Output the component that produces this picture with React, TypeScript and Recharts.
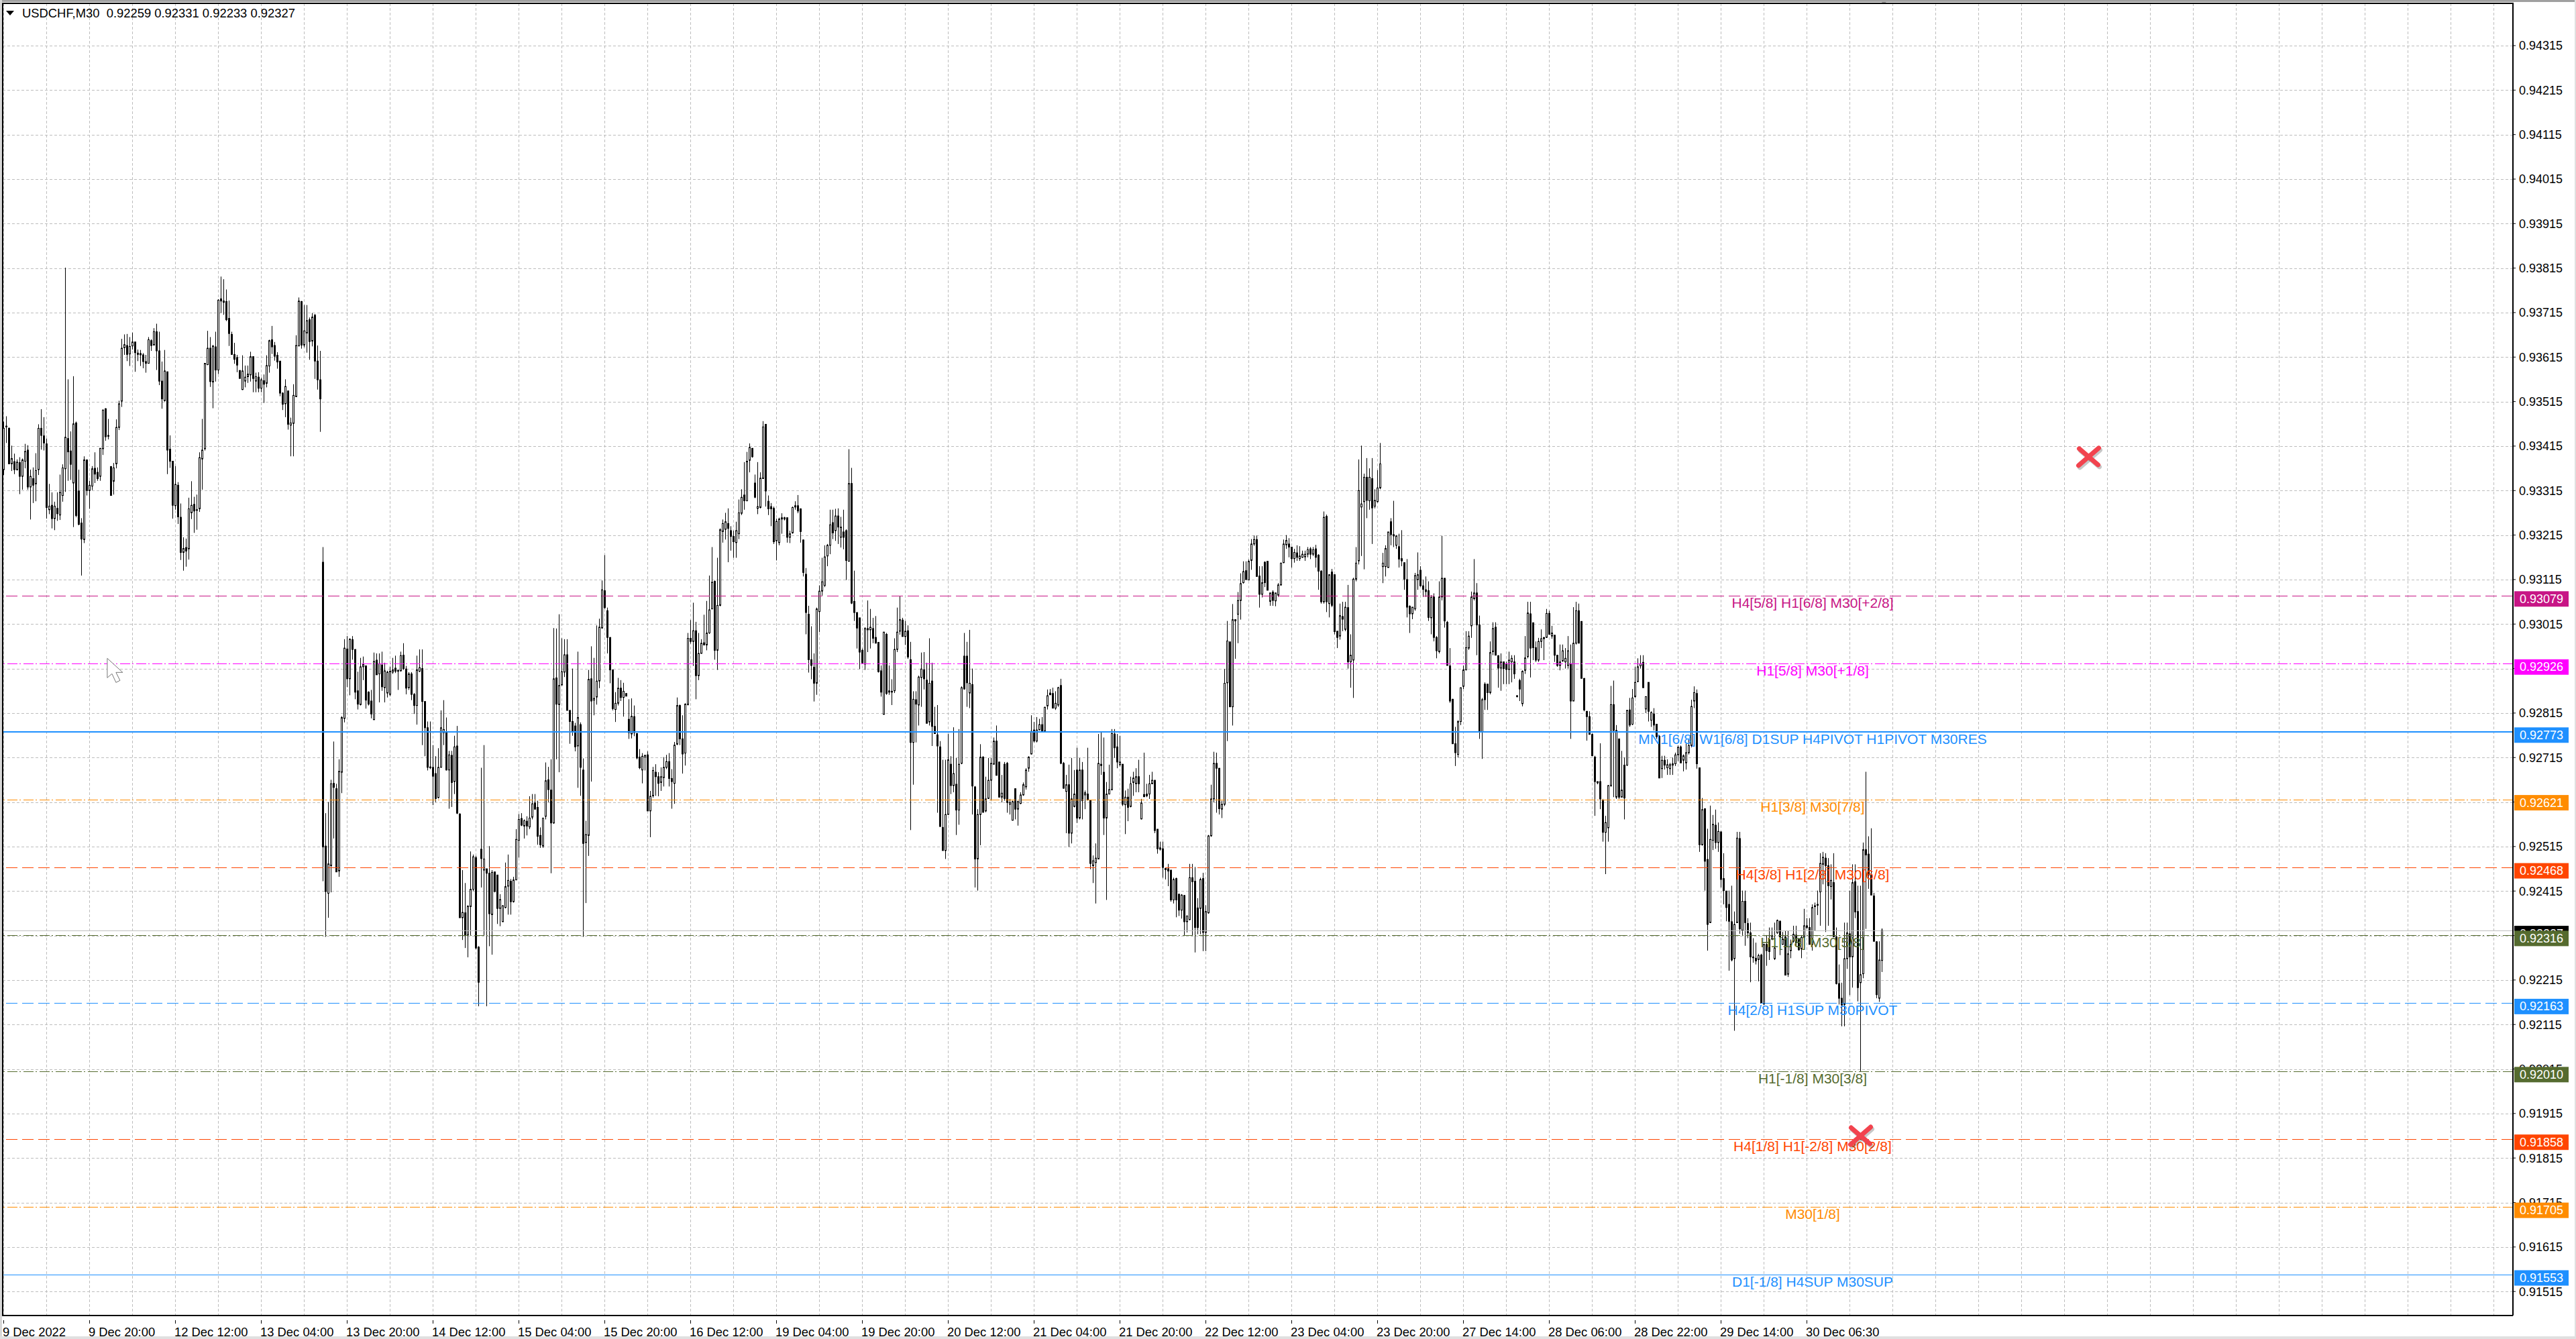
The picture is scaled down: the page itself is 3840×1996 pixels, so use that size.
import { ComposedChart, Bar, XAxis, YAxis, CartesianGrid, ReferenceLine, ReferenceDot } from "recharts";

// rows are [open, high, low, close] in 1e-5 price units
const legA = [
[93362,93470,93350,93455],[93460,93482,93422,93458],[93455,93457,93375,93375],[93375,93416,93359,93387],[93380,93398,93352,93362],[93362,93385,93360,93379],[93378,93390,93307,93347],[93347,93387,93317,93384],[93381,93420,93365,93403],[93406,93417,93317,93323],
[93323,93362,93250,93347],[93342,93367,93287,93327],[93330,93399,93291,93360],[93362,93464,93350,93455],[93455,93498,93407,93439],[93438,93480,93405,93422],[93420,93432,93252,93277],[93272,93330,93262,93280],[93282,93311,93230,93252],[93252,93290,93226,93280],
[93275,93311,93247,93263],[93260,93351,93249,93311],[93304,93374,93290,93366],[93364,93816,93312,93435],[93432,93565,93337,93402],[93404,93448,93339,93374],[93332,93572,93233,93465],[93467,93470,93255,93259],[93314,93362,93237,93239],[93242,93253,93124,93206],
[93205,93392,93197,93384],[93384,93385,93304,93315],[93315,93337,93274,93327],[93325,93370,93316,93364],[93365,93401,93332,93352],[93356,93367,93337,93342],[93347,93410,93337,93410],[93409,93497,93395,93496],[93499,93500,93427,93436],[93439,93476,93430,93437],
[93369,93370,93304,93304],[93336,93377,93306,93366],[93375,93475,93365,93457],[93457,93517,93451,93510],[93516,93656,93503,93635],[93636,93666,93620,93643],[93641,93667,93606,93621],[93622,93660,93595,93639],[93640,93670,93632,93649],[93649,93649,93582,93625],
[93624,93632,93606,93621],[93623,93631,93595,93620],[93620,93624,93590,93605],[93605,93620,93580,93601],[93601,93660,93601,93654],[93652,93655,93629,93641],[93642,93680,93642,93672],[93672,93690,93586,93629],[93629,93672,93552,93561],[93561,93605,93499,93521],
[93517,93631,93515,93584],[93582,93582,93352,93406],[93408,93439,93366,93381],[93381,93381,93252,93282],[93281,93370,93272,93329],[93327,93334,93240,93256],[93255,93286,93159,93176],[93176,93210,93135,93185],[93187,93207,93144,93179],[93184,93299,93160,93274],
[93265,93336,93251,93282],[93284,93301,93220,93269],[93272,93306,93227,93271],[93274,93401,93267,93389],[93386,93476,93317,93406],[93409,93601,93405,93601],[93598,93674,93597,93635],[93635,93660,93548,93560],[93559,93642,93500,93640],[93638,93672,93560,93586],
[93586,93745,93577,93743],[93746,93796,93714,93741],[93741,93790,93710,93738],[93740,93767,93696,93699],[93702,93742,93640,93668],[93666,93672,93620,93621],[93621,93647,93600,93610],[93614,93620,93581,93597],[93585,93585,93567,93567],[93542,93619,93541,93584],
[93561,93596,93547,93570],[93571,93596,93557,93577],[93575,93627,93560,93616],[93616,93616,93536,93567],[93561,93580,93536,93571],[93570,93581,93536,93545],[93545,93569,93536,93564],[93562,93576,93512,93554],[93556,93619,93547,93596],[93595,93654,93580,93652],
[93654,93685,93622,93638],[93641,93649,93607,93617],[93619,93626,93589,93604],[93606,93606,93527,93534],[93534,93536,93496,93509],[93510,93565,93480,93549],[93539,93539,93452,93464],[93462,93479,93392,93467],[93466,93554,93392,93529],[93526,93664,93525,93641],
[93640,93749,93640,93741],[93740,93741,93634,93642],[93642,93732,93637,93674],[93669,93732,93625,93697],[93699,93704,93609,93650],[93651,93714,93639,93705],[93709,93712,93566,93606],[93606,93641,93542,93564],[93564,93629,93447,93521],
];

const legB = [
[93154,93188,92437,92514],[92516,92590,92312,92414],[92410,92615,92355,92476],[92472,92665,92412,92656],[92657,92751,92533,92648],[92645,92656,92458,92458],[92460,92711,92447,92684],[92682,92808,92635,92805],[92803,92981,92794,92961],[92959,92988,92873,92892],
[92892,92983,92855,92981],[92980,92988,92935,92958],[92958,92958,92846,92862],[92865,92908,92823,92835],[92834,92939,92832,92919],[92919,92942,92889,92924],[92921,92922,92825,92844],[92862,92864,92832,92835],[92842,92867,92803,92813],[92800,92951,92800,92931],
[92934,92949,92901,92901],[92903,92949,92839,92926],[92923,92953,92865,92874],[92872,92928,92839,92910],[92860,92910,92850,92907],[92857,92919,92853,92909],[92907,92939,92903,92912],[92916,92944,92905,92909],[92911,92912,92867,92909],[92910,92953,92908,92944],
[92945,92972,92912,92915],[92914,92921,92857,92871],[92872,92907,92867,92903],[92903,92907,92844,92857],[92857,92860,92813,92832],[92832,92944,92789,92912],[92909,92958,92907,92917],[92915,92958,92743,92841],[92841,92841,92718,92782],[92782,92796,92686,92693],
[92694,92796,92689,92692],[92693,92743,92608,92673],[92679,92718,92615,92623],[92625,92736,92623,92693],[92693,92821,92693,92782],[92771,92844,92743,92778],[92773,92805,92686,92687],[92687,92730,92600,92721],[92720,92730,92604,92659],[92661,92764,92633,92739],
[92741,92786,92588,92590],[92588,92590,92355,92355],[92355,92462,92305,92367],[92366,92433,92287,92316],[92316,92383,92266,92381],[92380,92504,92316,92419],[92419,92497,92415,92492],[92490,92494,92284,92287],[92289,92291,92156,92210],[92509,92692,92423,92488],
[92462,92743,92316,92487],[92465,92465,92156,92455],[92455,92516,92291,92364],[92362,92462,92272,92457],[92458,92458,92412,92414],[92451,92451,92341,92376],[92376,92408,92336,92396],[92346,92383,92346,92382],[92378,92479,92376,92425],[92426,92497,92362,92439],
[92437,92442,92362,92391],[92391,92447,92389,92440],[92440,92554,92440,92531],[92529,92588,92490,92576],[92578,92590,92561,92563],[92561,92576,92533,92573],[92572,92583,92540,92561],[92559,92628,92554,92579],[92581,92633,92576,92611],[92613,92633,92598,92599],
[92603,92618,92519,92538],[92540,92558,92512,92519],[92516,92579,92512,92579],[92583,92704,92576,92663],[92665,92694,92615,92643],[92642,92711,92455,92568],[92568,93006,92566,92892],[92894,93005,92711,92835],[92834,93037,92682,92877],[92878,92983,92878,92908],
[92907,92981,92896,92946],[92946,92981,92821,92821],[92821,92821,92746,92796],[92796,92915,92764,92775],[92786,92793,92729,92739],[92741,92953,92647,92805],[92789,92794,92629,92693],[92687,92713,92312,92522],[92524,92573,92388,92542],[92540,92912,92494,92891],
[92892,92965,92661,92842],[92844,92939,92810,92848],[92851,93012,92834,92887],[92887,93027,92871,93008],[93006,93113,93005,93092],[93090,93170,93049,93052],[93045,93052,92949,92985],[92985,92985,92882,92912],[92912,92912,92821,92825],[92823,92862,92795,92837],
[92837,92894,92832,92871],[92871,92889,92842,92850],[92850,92883,92807,92864],[92859,92859,92853,92853],[92801,92846,92757,92771],[92768,92848,92758,92808],[92807,92832,92763,92771],[92769,92770,92711,92714],[92716,92734,92689,92692],[92687,92725,92657,92718],
[92716,92721,92686,92720],[92721,92729,92595,92595],[92595,92640,92536,92628],[92629,92694,92625,92686],[92682,92700,92629,92672],[92672,92682,92628,92657],[92659,92693,92640,92672],[92670,92716,92650,92693],[92693,92721,92689,92706],[92706,92725,92650,92668],
[92668,92689,92600,92661],[92657,92750,92611,92743],[92745,92850,92743,92832],[92832,92834,92743,92757],[92757,92810,92679,92723],[92725,92837,92697,92835],[92834,92995,92832,92983],[92983,93024,92971,92976],[92976,93063,92921,93000],[93000,93020,92846,92899],
[92899,92995,92889,92949],[92949,92981,92949,92972],[92973,93036,92967,92968],[92968,93067,92956,92995],[92995,93124,92993,93047],[93049,93188,93049,93109],[93111,93113,92935,92956],[92956,93164,92912,93057],[93057,93230,93055,93227],[93223,93250,93198,93241],
[93228,93265,93205,93245],[93241,93275,93154,93230],[93225,93235,93180,93212],[93212,93225,93164,93200],[93198,93245,93164,93225],
];

const legC = [
[93218,93295,93206,93265],[93264,93318,93260,93300],[93305,93379,93272,93292],[93292,93402,93291,93381],[93383,93421,93356,93412],[93410,93410,93389,93391],[93332,93351,93298,93300],[93275,93379,93262,93279],[93277,93356,93275,93343],[93342,93471,93341,93458],
[93464,93464,93279,93314],[93291,93304,93260,93274],[93279,93287,93235,93274],[93275,93279,93195,93200],[93202,93252,93158,93246],[93198,93254,93192,93251],[93251,93264,93218,93254],[93254,93256,93248,93251],[93254,93254,93198,93210],[93210,93225,93197,93218],
[93220,93279,93218,93277],[93281,93291,93272,93278],[93281,93305,93264,93269],[93274,93275,93198,93223],[93204,93205,93122,93131],[93127,93141,92992,93041],[93037,93056,92906,92935],[92935,93010,92891,92922],[92918,92949,92841,92882],[92882,93052,92856,93049],
[93043,93102,92997,93089],[93089,93164,93079,93110],[93102,93192,93098,93166],[93168,93195,93145,93192],[93192,93272,93172,93238],[93243,93272,93206,93220],[93225,93274,93202,93258],[93258,93275,93195,93233],[93210,93256,93187,93233],[93222,93272,93183,93210],
[93225,93228,93114,93158],[93156,93408,93156,93331],[93331,93366,93060,93062],[93066,93135,93022,93041],[93041,93041,92960,93006],[93029,93029,92914,92952],[92956,92960,92925,92928],[92925,93008,92912,93005],[93002,93068,92952,93005],[93002,93049,92960,93008],
[93005,93029,92972,92983],[92985,93033,92972,92972],[92974,92974,92906,92908],[92910,92922,92852,92862],[92812,92997,92812,92997],[92992,92995,92856,92859],[92862,92922,92856,92865],[92862,92891,92833,92864],[92865,92983,92860,92958],[92958,93052,92952,92997],
[92999,93077,92991,93025],[93024,93029,92987,92987],[92987,93022,92968,92999],[93000,93012,92937,92941],[92935,92975,92552,92749],[92749,92864,92654,92846],[92845,92864,92749,92835],[92833,92899,92787,92896],[92895,92951,92829,92914],[92912,92952,92868,92892],
[92889,92928,92792,92792],[92795,92983,92787,92882],[92887,92928,92741,92785],[92785,92829,92768,92769],[92766,92833,92591,92741],[92739,92752,92560,92560],[92558,92710,92506,92506],[92506,92710,92487,92587],[92587,92768,92587,92710],[92700,92718,92633,92652],
[92652,92783,92637,92679],[92655,92714,92541,92597],[92597,92779,92564,92700],[92702,92875,92700,92872],[92943,92995,92868,92869],[92943,92975,92829,92883],[92860,93002,92826,92882],[92879,92915,92587,92651],[92649,92651,92423,92487],[92487,92599,92416,92587],
[92587,92745,92518,92716],[92716,92718,92591,92592],[92595,92672,92592,92622],[92623,92714,92622,92664],[92664,92714,92618,92702],[92700,92760,92699,92752],[92752,92787,92675,92675],[92705,92705,92626,92626],[92626,92676,92614,92635],[92700,92705,92618,92623],
[92702,92705,92591,92614],[92610,92622,92587,92614],[92574,92618,92574,92616],[92645,92645,92576,92599],[92599,92618,92562,92616],[92612,92637,92610,92631],[92631,92659,92629,92654],[92649,92691,92643,92687],[92691,92718,92683,92716],[92723,92810,92722,92774],
[92777,92795,92749,92752],[92752,92806,92749,92777],[92777,92802,92777,92789],[92789,92806,92772,92774],[92774,92829,92772,92828],[92831,92868,92823,92854],[92860,92869,92856,92856],[92859,92872,92826,92826],[92826,92864,92822,92837],[92833,92874,92829,92872],
[92877,92892,92700,92702],[92702,92705,92645,92646],[92639,92676,92545,92654],[92654,92699,92514,92545],[92545,92714,92522,92622],[92605,92687,92603,92633],[92687,92737,92568,92579],[92579,92714,92576,92687],[92687,92705,92576,92618],[92631,92641,92599,92636],
[92633,92737,92618,92620],[92618,92618,92464,92477],[92472,92495,92433,92483],[92479,92522,92387,92489],[92487,92768,92487,92702],[92700,92772,92676,92697],[92682,92760,92541,92579],[92579,92660,92395,92633],[92633,92699,92633,92643],[92643,92779,92641,92769],
[92768,92779,92714,92737],[92739,92768,92691,92705],[92699,92764,92695,92705],[92700,92700,92606,92610],[92609,92641,92543,92626],[92626,92645,92572,92603],[92605,92672,92603,92656],[92659,92683,92629,92669],[92656,92691,92637,92672],[92672,92710,92637,92656],
[92577,92622,92576,92613],[92632,92726,92626,92627],[92629,92656,92626,92633],[92633,92676,92622,92656],[92656,92683,92656,92664],[92664,92664,92545,92551],[92554,92554,92499,92510],[92512,92526,92506,92509],[92510,92526,92445,92468],[92466,92468,92441,92463],
[92465,92476,92426,92460],[92462,92462,92391,92395],[92395,92445,92387,92441],[92443,92445,92356,92395],[92408,92408,92359,92372],[92372,92408,92353,92406],[92405,92406,92314,92346],[92346,92360,92322,92359],[92351,92476,92349,92445],[92445,92476,92314,92436],
[92437,92469,92277,92333],[92377,92399,92318,92333],[92376,92445,92318,92441],[92443,92456,92280,92322],[92322,92383,92280,92369],
];

const legD = [
[92366,92541,92364,92539],[92539,92654,92537,92622],[92622,92728,92614,92702],[92702,92726,92591,92691],[92691,92691,92587,92600],[92599,92618,92579,92610],[92610,92914,92606,92882],[92883,93022,92752,92977],[92975,92975,92829,92829],[92829,93060,92787,93025],
[93025,93025,92937,93022],[93037,93087,92972,93068],[93068,93129,93025,93106],[93108,93156,93106,93133],[93135,93156,93114,93115],[93114,93160,93114,93156],[93158,93206,93137,93195],[93195,93214,93191,93205],[93205,93214,93122,93122],[93123,93145,93052,93082],
[93082,93145,93075,93108],[93154,93156,93098,93108],[93156,93156,93091,93091],[93066,93085,93056,93085],[93087,93091,93056,93068],[93067,93085,93055,93085],[93080,93107,93076,93103],[93103,93153,93101,93152],[93153,93205,93152,93195],[93193,93215,93184,93203],
[93195,93208,93165,93188],[93188,93188,93142,93162],[93162,93184,93153,93176],[93175,93192,93157,93165],[93162,93190,93157,93168],[93165,93180,93164,93172],[93166,93180,93157,93172],[93172,93188,93165,93182],[93184,93188,93161,93172],[93172,93188,93168,93182],
[93184,93193,93142,93165],[93170,93172,93092,93134],[93134,93136,93061,93065],[93065,93268,93061,93255],[93257,93261,93042,93065],[93061,93126,93030,93126],[93132,93139,93053,93057],[93126,93126,92992,92998],[92999,92999,92961,92985],[92988,93061,92980,93034],
[93032,93065,92999,93026],[93003,93065,92999,93053],[93052,93103,92915,92930],[92930,92992,92872,92945],[92934,93119,92849,93116],[93116,93188,93111,93152],[93157,93385,93149,93315],[93278,93416,93168,93285],[93290,93353,93138,93345],[93345,93388,93253,93293],
[93292,93365,93272,93345],[93342,93388,93195,93276],[93280,93318,93275,93293],[93290,93361,93288,93321],[93321,93422,93318,93375],[93144,93175,93107,93152],[93144,93192,93122,93185],[93142,93222,93142,93222],[93245,93253,93192,93216],[93216,93292,93188,93213],
[93192,93215,93184,93213],[93189,93218,93142,93161],[93162,93226,93145,93157],[93153,93153,93092,93116],[93115,93161,93030,93053],[93055,93057,92995,93038],[93038,93053,93026,93053],[93049,93130,93045,93124],[93115,93176,93092,93126],[93136,93145,93099,93101],
[93101,93115,93076,93093],[93092,93122,93076,93088],[93090,93111,93022,93030],[93029,93080,92992,93075],[93076,93084,92976,92985],[92985,92988,92938,92955],[92953,93111,92949,93076],[93076,93213,93068,93118],[93118,93118,93007,93022],[93019,93022,92922,92922],
[92921,92961,92838,92842],[92846,92847,92746,92746],[92746,92784,92696,92726],[92722,92799,92715,92796],[92796,92872,92788,92872],[92875,92922,92869,92912],[92912,92999,92911,92962],[92961,92999,92957,92988],[93011,93088,92984,93076],[93072,93161,93068,93085],
[93085,93107,92945,93013],[93013,93034,92757,92775],[92772,92849,92712,92845],[92880,92884,92822,92845],[92880,92880,92822,92861],[92861,92976,92857,92951],[92953,93019,92945,93005],[93008,93019,92945,92945],[92944,92945,92872,92916],[92916,92949,92865,92930],
[92930,92930,92880,92915],[92926,92930,92880,92913],[92913,92953,92880,92934],[92930,92945,92884,92938],[92930,92945,92892,92903],[92852,92855,92850,92854],[92888,92892,92842,92869],[92836,92911,92830,92909],[92911,92988,92903,92939],[92942,93065,92938,93040],
[93038,93065,92895,92961],[93018,93018,92934,92962],[92962,92976,92930,92934],[92934,92984,92930,92976],[92976,93003,92961,92982],[92982,92984,92934,92985],[92985,93049,92984,93039],[93039,93045,92992,92992],[92988,93011,92982,92995],[92990,92990,92930,92945],
[92945,92945,92919,92922],[92922,92969,92911,92930],[92932,92969,92930,92955],[92930,92961,92915,92938],[92922,92988,92915,92955],[92926,92969,92757,92842],[92842,93053,92842,92972],[92972,93065,92969,93045],[93045,93061,92972,92972],[93021,93021,92893,92893],
[92893,92893,92819,92822],[92819,92819,92753,92807],[92807,92819,92767,92767],[92767,92769,92719,92719],[92716,92719,92584,92661],[92661,92661,92655,92658],[92661,92747,92599,92622],[92619,92622,92526,92547],[92547,92584,92453,92569],[92557,92653,92526,92652],
[92652,92876,92649,92834],[92834,92888,92626,92776],[92626,92788,92622,92776],[92757,92757,92622,92626],[92626,92730,92626,92642],[92698,92715,92576,92624],[92698,92822,92696,92821],[92822,92849,92784,92788],[92790,92869,92788,92849],[92852,92919,92849,92884],
[92886,92938,92884,92919],[92921,92945,92915,92926],[92929,92945,92872,92872],[92824,92852,92815,92852],[92884,92884,92796,92819],[92799,92819,92784,92816],[92813,92826,92776,92788],[92790,92790,92757,92762],[92763,92765,92669,92669],[92690,92719,92669,92709],
[92709,92719,92688,92698],[92692,92711,92676,92699],[92690,92703,92676,92699],[92698,92715,92676,92701],[92701,92726,92696,92721],[92721,92742,92707,92738],[92739,92742,92703,92703],[92709,92722,92684,92719],[92703,92746,92688,92726],[92726,92757,92722,92742],
[92742,92845,92738,92830],[92842,92875,92826,92861],
];

const legE = [
[92859,92868,92690,92701],[92692,92692,92503,92519],[92519,92624,92517,92598],[92600,92600,92416,92482],[92486,92555,92281,92340],[92344,92607,92344,92531],[92529,92586,92507,92565],[92563,92598,92510,92524],[92524,92569,92503,92549],[92548,92549,92423,92441],
[92443,92500,92385,92416],[92415,92415,92347,92378],[92385,92416,92236,92347],[92346,92427,92257,92260],[92263,92369,92101,92340],[92344,92548,92344,92534],[92533,92548,92319,92330],[92326,92416,92316,92392],[92392,92416,92292,92344],[92342,92354,92309,92321],
[92321,92344,92210,92267],[92265,92309,92254,92267],[92264,92299,92250,92258],[92261,92274,92212,92270],[92271,92274,92163,92163],[92161,92295,92160,92295],[92295,92316,92247,92281],[92306,92333,92260,92279],[92307,92333,92306,92315],[92263,92344,92260,92287],
[92321,92351,92319,92349],[92347,92349,92271,92312],[92295,92323,92295,92307],[92312,92326,92226,92226],[92228,92326,92222,92274],[92281,92306,92264,92295],[92302,92337,92299,92318],[92316,92337,92292,92299],[92306,92309,92281,92283],[92285,92316,92264,92311],
[92312,92375,92292,92337],[92337,92354,92330,92333],[92333,92354,92295,92295],[92295,92385,92281,92378],[92380,92389,92326,92382],[92383,92416,92361,92385],[92413,92500,92337,92477],[92475,92503,92430,92491],[92489,92500,92323,92472],[92472,92489,92337,92427],
[92425,92475,92396,92439],[92434,92500,92312,92312],[92312,92333,92205,92207],[92207,92250,92160,92174],[92174,92209,92111,92159],[92160,92344,92111,92263],[92263,92344,92240,92321],[92319,92416,92181,92267],[92267,92475,92198,92434],[92436,92475,92354,92368],
[92369,92427,92167,92198],[92209,92427,92010,92227],[92229,92524,92219,92508],[92508,92683,92330,92496],[92498,92538,92420,92451],[92451,92556,92406,92406],[92404,92411,92302,92302],[92301,92302,92174,92182],[92174,92302,92166,92260],[92259,92331,92233,92327],
];

const dateLabels = ["9 Dec 2022","9 Dec 20:00","12 Dec 12:00","13 Dec 04:00","13 Dec 20:00","14 Dec 12:00","15 Dec 04:00","15 Dec 20:00","16 Dec 12:00","19 Dec 04:00","19 Dec 20:00","20 Dec 12:00","21 Dec 04:00","21 Dec 20:00","22 Dec 12:00","23 Dec 04:00","23 Dec 20:00","27 Dec 14:00","28 Dec 06:00","28 Dec 22:00","29 Dec 14:00","30 Dec 06:30"];
const gridBars = [0,16,32,48,64,80,96,112,128,144,160,176,192,208,224,240,256,272,288,304,320,336,352,368,384,400,416,432,448,464,480,496,512,528,544,560,576,592,608,624,640,656,672,688,704,720,736,752,768,784,800,816,832,848,864,880,896,912,928];
const priceTicks = [94315,94215,94115,94015,93915,93815,93715,93615,93515,93415,93315,93215,93115,93015,92915,92815,92715,92615,92515,92415,92315,92215,92115,92015,91915,91815,91715,91615,91515];

const levelPrices = [93079,92926,92773,92621,92468,92316,92163,92010,91858,91705,91553];
const levelNames = ["H4[5/8] H1[6/8] M30[+2/8]","H1[5/8] M30[+1/8]","MN1[6/8] W1[6/8] D1SUP H4PIVOT H1PIVOT M30RES","H1[3/8] M30[7/8]","H4[3/8] H1[2/8] M30[6/8]","H1[1/8] M30[5/8]","H4[2/8] H1SUP M30PIVOT","H1[-1/8] M30[3/8]","H4[1/8] H1[-2/8] M30[2/8]","M30[1/8]","D1[-1/8] H4SUP M30SUP"];
const levelColors = ["#C71585","#FF00FF","#1E90FF","#FF8C00","#FF4500","#556B2F","#1E90FF","#556B2F","#FF4500","#FF8C00","#1E90FF"];
const DASH = "17 7";
const DASHDOT = "15 4 2 3";
const levelDashes = [DASH,DASHDOT,"",DASHDOT,DASH,DASHDOT,DASH,DASHDOT,DASH,DASHDOT,""];
const levelWidths = [1,1,2,1,1,1,1,1,1,1,1];

const lastPrice = 92327;
const crossBars = [692,777];
const crossPrices = [91865,93391];

const data = [...legA, ...legB, ...legC, ...legD, ...legE].map((r, i) => ({ i, open: r[0], high: r[1], low: r[2], close: r[3] }));

const fmt = (v: number) => (v / 100000).toFixed(5);
const TICK_FONT = "'Liberation Sans', Arial, sans-serif";
const X_DOMAIN = [-0.375, 935.125];
const Y_DOMAIN = [91461, 94410];

const Candle = (props: any) => {
  const { x, y, width, height, payload } = props;
  const cx = Math.round(x + width / 2 - 0.5) + 0.5;
  const perUnit = height / (payload.high - payload.low || 1);
  const top = y + (payload.high - Math.max(payload.open, payload.close)) * perUnit;
  const bodyH = Math.max(Math.abs(payload.open - payload.close) * perUnit, 1);
  const up = payload.close >= payload.open;
  return (
    <g>
      <line x1={cx} x2={cx} y1={y} y2={y + height} stroke="#000" strokeWidth={1} />
      <rect x={cx - 1} y={top} width={2} height={bodyH} fill={up ? "#fff" : "#000"} stroke="#000" strokeWidth={1} />
    </g>
  );
};

const DateTick = (props: any) => {
  const { x, y, payload } = props;
  const n = payload.value / 32;
  if (!Number.isInteger(n) || !dateLabels[n]) return null;
  return (
    <g>
      <line x1={x} x2={x} y1={y - 1} y2={y + 4} stroke="#000" strokeWidth={1} />
      <text x={x - 1.5} y={y + 23} fontSize={18.4} fontFamily={TICK_FONT} fill="#000">{dateLabels[n]}</text>
    </g>
  );
};

// snap horizontal rules to the pixel grid so they stay as sharp as in the terminal
const CrispLine = (props: any) => {
  const y = Math.round(props.y1) + (props.strokeWidth === 2 ? 0 : 0.5);
  return <line x1={props.x1} x2={props.x2} y1={y} y2={y} stroke={props.stroke} strokeWidth={props.strokeWidth} strokeDasharray={props.strokeDasharray} />;
};

const levelLabel = (k: number) => (props: any) => {
  const y = props.viewBox.y;
  return (
    <g>
      <text x={2702} y={y + 18} textAnchor="middle" fontSize={21} fontFamily={TICK_FONT} fill={levelColors[k]}>{levelNames[k]}</text>
      <rect x={3748} y={y - 6.5} width={81} height={23} fill={levelColors[k]} />
      <text x={3788.5} y={y + 11} textAnchor="middle" fontSize={18} fontFamily={TICK_FONT} fill="#fff">{fmt(levelPrices[k])}</text>
    </g>
  );
};

const lastLabel = (props: any) => {
  const y = props.viewBox.y;
  return (
    <g>
      <rect x={3748} y={y - 6.5} width={81} height={23} fill="#000" />
      <text x={3788.5} y={y + 11} textAnchor="middle" fontSize={18} fontFamily={TICK_FONT} fill="#fff">{fmt(lastPrice)}</text>
    </g>
  );
};

const Cross = ({ cx, cy }: any) => (
  <g strokeLinecap="round" fill="none">
    <g transform="translate(2 3)" stroke="#000" strokeOpacity={0.22} strokeWidth={7}>
      <line x1={cx - 14} y1={cy - 12} x2={cx + 14} y2={cy + 12} />
      <line x1={cx + 15} y1={cy - 13} x2={cx - 15} y2={cy + 13} />
    </g>
    <g stroke="#F2434E" strokeWidth={7}>
      <line x1={cx - 14} y1={cy - 12} x2={cx + 14} y2={cy + 12} />
      <line x1={cx + 15} y1={cy - 13} x2={cx - 15} y2={cy + 13} />
    </g>
  </g>
);

const Pointer = ({ cx, cy }: any) => (
  <path d={`M${cx} ${cy}v29l7 -6l6 13l6 -3l-6 -12l10 0z`} fill="#fff" stroke="#777" strokeWidth={1} />
);

const TopMark = ({ cx }: any) => <path d={`M${cx - 7} 0h14l-7 6z`} fill="#A8A8A8" />;

export default function App() {
  return (
    <div style={{ position: "fixed", left: 0, top: 0, width: 3840, height: 1996, background: "#fff", overflow: "hidden" }}>
      <ComposedChart
        width={3840}
        height={1996}
        data={data}
        barSize={3}
        margin={{ top: 5, left: 4, right: 0, bottom: 0 }}
      >
        <CartesianGrid
          stroke="#BDBDBD"
          strokeDasharray="4 3"
          horizontal={(p: any) => <CrispLine key={p.key} {...p} stroke="#BDBDBD" strokeWidth={1} strokeDasharray="4 3" />}
        />
        <XAxis
          dataKey="i"
          type="number"
          domain={X_DOMAIN}
          ticks={gridBars}
          interval={0}
          height={35}
          tick={<DateTick />}
          tickLine={false}
          axisLine={{ stroke: "#000", strokeWidth: 2 }}
        />
        <YAxis
          orientation="right"
          type="number"
          domain={Y_DOMAIN}
          ticks={priceTicks}
          interval={0}
          width={94}
          tickFormatter={fmt}
          tickSize={4}
          tickMargin={5}
          tick={{ fill: "#000", fontSize: 18, fontFamily: TICK_FONT }}
          tickLine={{ stroke: "#000" }}
          axisLine={{ stroke: "#000", strokeWidth: 2 }}
          allowDataOverflow
        />
        <ReferenceLine y={lastPrice} stroke="#C0C0C0" strokeWidth={1} shape={CrispLine} />
        {levelPrices.map((p, k) =>
          levelDashes[k] ? (
            <ReferenceLine key={p} y={p} stroke={levelColors[k]} strokeWidth={levelWidths[k]} strokeDasharray={levelDashes[k]} shape={CrispLine} />
          ) : null
        )}
        <Bar dataKey={(d: any) => [d.low, d.high]} shape={<Candle />} isAnimationActive={false} />
        {levelPrices.map((p, k) =>
          levelDashes[k] ? null : (
            <ReferenceLine key={p} y={p} stroke={levelColors[k]} strokeWidth={levelWidths[k]} shape={CrispLine} />
          )
        )}
        <ReferenceDot x={38.6} y={92938} r={1} shape={<Pointer />} ifOverflow="visible" />
        <ReferenceDot x={700.7} y={94400} r={1} shape={<TopMark />} ifOverflow="visible" />
      </ComposedChart>

      {/* second layer on the same scales: the price tags cover the axis labels, as they do in the terminal */}
      <div style={{ position: "absolute", left: 0, top: 0 }}>
        <ComposedChart
          width={3840}
          height={1996}
          data={data}
          margin={{ top: 5, left: 4, right: 94, bottom: 35 }}
        >
          <XAxis dataKey="i" type="number" domain={X_DOMAIN} hide />
          <YAxis type="number" domain={Y_DOMAIN} hide allowDataOverflow />
          <ReferenceLine y={lastPrice} stroke="none" label={lastLabel} />
          {levelPrices.map((p, k) => (
            <ReferenceLine key={p} y={p} stroke="none" label={levelLabel(k)} />
          ))}
          {crossBars.map((b, k) => (
            <ReferenceDot key={b} x={b} y={crossPrices[k]} r={1} shape={<Cross />} ifOverflow="visible" />
          ))}
        </ComposedChart>
      </div>

      <div style={{ position: "absolute", left: 0, top: 0, width: 3840, height: 3, background: "#A0A0A0" }} />
      <div style={{ position: "absolute", left: 0, top: 4, width: 3747, height: 2, background: "#000" }} />
      <div style={{ position: "absolute", left: 0, top: 0, width: 3, height: 1996, background: "#D8D8D8" }} />
      <div style={{ position: "absolute", left: 3, top: 4, width: 2, height: 1958, background: "#000" }} />
      <div style={{ position: "absolute", left: 3838, top: 0, width: 2, height: 1996, background: "#E0E0E0" }} />
      <div style={{ position: "absolute", left: 0, top: 1992, width: 3840, height: 4, background: "#E0E0E0" }} />
      <svg style={{ position: "absolute", left: 0, top: 0 }} width={460} height={32}>
        <path d="M9 16h12l-6 7z" fill="#000" />
        <text x={33} y={26} fontSize={18.4} fontFamily={TICK_FONT} fill="#000" xmlSpace="preserve">USDCHF,M30  0.92259 0.92331 0.92233 0.92327</text>
      </svg>
    </div>
  );
}
